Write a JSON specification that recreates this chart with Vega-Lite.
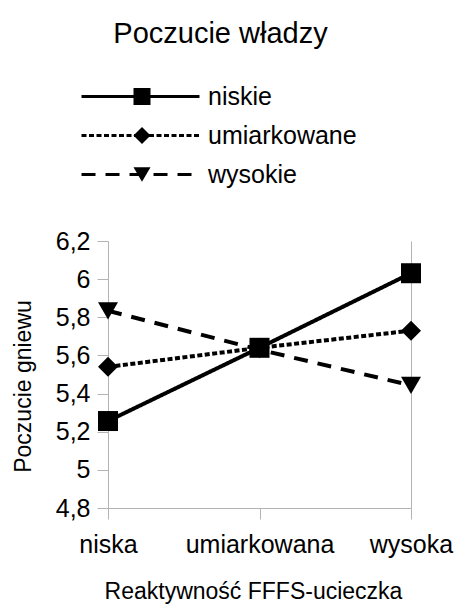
{
  "$schema": "https://vega.github.io/schema/vega-lite/v6.json",
  "autosize": "none",
  "width": 303,
  "height": 267,
  "padding": {"left": 108, "top": 241, "right": 49, "bottom": 100},
  "background": "white",
  "title": {
    "text": "Poczucie władzy",
    "font": "Liberation Sans",
    "fontSize": 29,
    "fontWeight": "normal",
    "color": "black",
    "anchor": "middle",
    "baseline": "alphabetic",
    "dx": -39,
    "offset": 12
  },
  "config": {
    "view": {"stroke": null},
    "axis": {
      "domainColor": "#b3b3b3",
      "tickColor": "#b3b3b3",
      "labelColor": "black",
      "titleColor": "black",
      "labelFont": "Liberation Sans",
      "titleFont": "Liberation Sans",
      "labelFontSize": 25,
      "titleFontSize": 23,
      "titleFontWeight": "normal",
      "grid": false,
      "tickSize": 11
    },
    "legend": {
      "labelFont": "Liberation Sans",
      "labelFontSize": 25,
      "labelColor": "black",
      "padding": 0,
      "rowPadding": 13,
      "symbolSize": 289
    }
  },
  "data": {
    "values": [
      {"reakt": "niska", "series": "niskie", "value": 5.256},
      {"reakt": "umiarkowana", "series": "niskie", "value": 5.64},
      {"reakt": "wysoka", "series": "niskie", "value": 6.031},
      {"reakt": "niska", "series": "umiarkowane", "value": 5.54},
      {"reakt": "umiarkowana", "series": "umiarkowane", "value": 5.64},
      {"reakt": "wysoka", "series": "umiarkowane", "value": 5.73},
      {"reakt": "niska", "series": "wysokie", "value": 5.834},
      {"reakt": "umiarkowana", "series": "wysokie", "value": 5.63},
      {"reakt": "wysoka", "series": "wysokie", "value": 5.443}
    ]
  },
  "encoding": {
    "x": {
      "field": "reakt",
      "type": "nominal",
      "scale": {"type": "point", "padding": 0, "domain": ["niska", "umiarkowana", "wysoka"]},
      "axis": {
        "title": "Reaktywność FFFS-ucieczka",
        "labelAngle": 0,
        "labelPadding": 13,
        "titlePadding": 23,
        "titleX": 145
      }
    },
    "y": {
      "field": "value",
      "type": "quantitative",
      "scale": {"domain": [4.8, 6.2], "nice": false, "zero": false}
    }
  },
  "layer": [
    {
      "mark": {"type": "line", "color": "black", "strokeWidth": 4},
      "encoding": {
        "y": {
          "field": "value",
          "type": "quantitative",
          "scale": {"domain": [4.8, 6.2], "nice": false, "zero": false},
          "axis": {
            "title": "Poczucie gniewu",
            "values": [4.8, 5, 5.2, 5.4, 5.6, 5.8, 6, 6.2],
            "labelExpr": "replace(format(datum.value, '.1~f'), '.', ',')",
            "labelPadding": 7,
            "titlePadding": 20,
            "titleY": 145
          }
        },
        "strokeDash": {
          "field": "series",
          "type": "nominal",
          "scale": {"range": [[1, 0], [5, 2.5], [14, 10]]},
          "legend": {
            "title": null,
            "orient": "none",
            "legendX": 20,
            "legendY": -157,
            "symbolType": "M-6.94,0H6.94",
            "symbolStrokeColor": "black",
            "symbolStrokeWidth": 3,
            "labelOffset": 55,
            "labelOpacity": 1
          }
        }
      }
    },
    {
      "mark": {"type": "point", "filled": true, "color": "black", "size": 400, "opacity": 1},
      "encoding": {
        "y": {
          "field": "value",
          "type": "quantitative",
          "scale": {"domain": [4.8, 6.2], "nice": false, "zero": false},
          "axis": {
            "orient": "right",
            "labels": false,
            "ticks": false,
            "title": null
          }
        },
        "shape": {
          "field": "series",
          "type": "nominal",
          "scale": {"domain": ["niskie", "umiarkowane", "wysokie"], "range": ["square", "diamond", "triangle-down"]},
          "legend": {
            "title": null,
            "orient": "none",
            "legendX": 21.5,
            "legendY": -157,
            "symbolFillColor": "black",
            "symbolStrokeWidth": 0,
            "symbolOpacity": 1,
            "labelExpr": "''"
          }
        }
      }
    }
  ],
  "resolve": {"axis": {"y": "independent"}}
}
